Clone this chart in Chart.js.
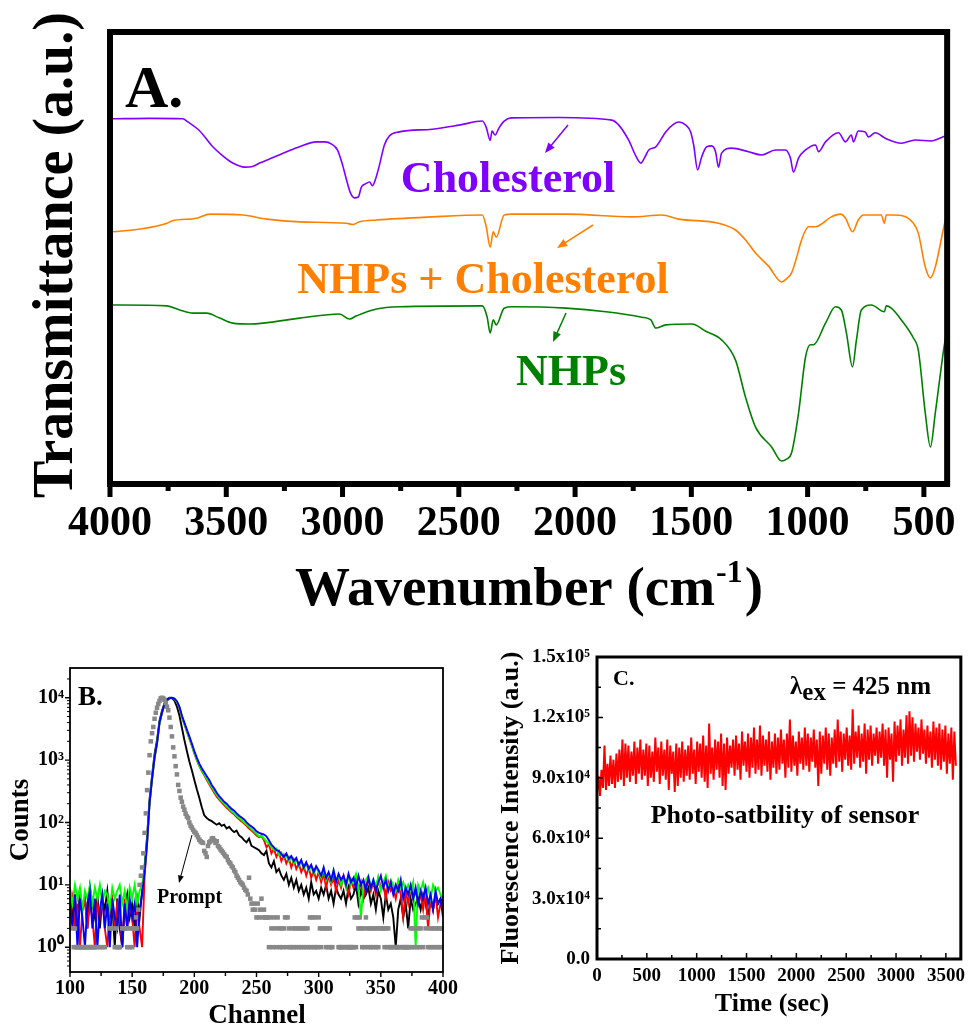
<!DOCTYPE html>
<html>
<head>
<meta charset="utf-8">
<title>FTIR spectra, fluorescence decay and photostability</title>
<script src="https://cdn.jsdelivr.net/npm/chart.js@4.4.1/dist/chart.umd.min.js"></script>
<style>
  html, body { margin: 0; padding: 0; background: #fff; overflow: hidden; }
  #figure { position: relative; width: 971px; height: 1027px; }
  canvas { position: absolute; }
  #ftir { left: 0; top: 0; }
  #decay { left: 0; top: 630px; }
  #stability { left: 480px; top: 630px; }
</style>
</head>
<body>
<div id="figure">
  <canvas id="ftir" width="971" height="620"></canvas>
  <canvas id="decay" width="480" height="397"></canvas>
  <canvas id="stability" width="491" height="397"></canvas>
</div>
<script>
const SERIF = '"Liberation Serif", "Times New Roman", serif';
const font = (size, weight = 'bold') => `${weight} ${size}px ${SERIF}`;

// ---------- A. FTIR spectra (wavenumber in cm-1, transmittance in a.u., curves offset) ----------
const cholWave = [3987, 3828, 3687, 3665, 3614, 3558, 3515, 3472, 3421, 3391,
  3356, 3305, 3240, 3185, 3112, 3077, 3047, 3022, 3000, 2983,
  2966, 2949, 2932, 2919, 2901, 2884, 2871, 2859, 2841, 2820,
  2799, 2756, 2614, 2498, 2399, 2382, 2365, 2357, 2344, 2327,
  2305, 2275, 2069, 1842, 1812, 1769, 1739, 1717, 1700, 1683,
  1653, 1610, 1576, 1554, 1524, 1503, 1490, 1473, 1456, 1434,
  1413, 1396, 1383, 1370, 1327, 1254, 1198, 1138, 1095, 1074,
  1061, 1039, 1009, 966, 953, 923, 867, 837, 812, 803,
  782, 752, 739, 709, 666, 597, 537, 468, 417, 405];
const cholT = [80.8, 80.9, 80.8, 80.1, 78.1, 74.6, 72.6, 71.0, 70.1, 70.2,
  71.0, 72.1, 73.5, 74.6, 75.7, 75.7, 75.2, 73.9, 70.6, 67.3,
  64.4, 63.3, 63.5, 65.7, 66.4, 66.8, 66.0, 67.3, 70.6, 75.0,
  77.0, 77.9, 78.5, 79.4, 80.3, 78.9, 76.0, 78.1, 77.2, 78.8,
  80.3, 81.0, 81.1, 80.5, 79.4, 76.0, 72.6, 71.0, 72.3, 73.9,
  74.6, 77.9, 79.6, 80.1, 79.4, 77.9, 75.0, 69.5, 72.3, 74.6,
  74.8, 73.5, 70.1, 73.2, 74.3, 73.5, 72.8, 73.9, 73.9, 72.1,
  69.0, 72.1, 73.9, 75.0, 73.5, 75.7, 77.7, 75.7, 77.2, 75.7,
  78.1, 77.9, 76.8, 77.7, 76.5, 75.4, 76.1, 75.9, 76.8, 77.0];

const mixWave = [3987, 3871, 3755, 3734, 3627, 3571, 3429, 3326, 3185, 2983,
  2957, 2927, 2854, 2614, 2399, 2382, 2365, 2352, 2339, 2305,
  2271, 2039, 1756, 1627, 1554, 1383, 1310, 1267, 1224, 1168,
  1112, 1091, 1069, 1048, 1026, 996, 966, 898, 859, 837,
  807, 782, 760, 683, 670, 662, 632, 545, 524, 494,
  472, 451, 417, 405];
const mixT = [55.8, 56.4, 57.7, 58.2, 58.8, 59.7, 59.5, 58.6, 58.0, 57.7,
  57.4, 58.0, 58.4, 59.1, 59.5, 56.9, 52.4, 55.8, 54.6, 59.5,
  59.7, 59.7, 59.1, 59.5, 58.6, 57.7, 56.2, 54.0, 51.1, 48.2,
  44.7, 45.4, 46.7, 50.0, 54.0, 56.9, 56.9, 59.1, 59.7, 58.8,
  55.8, 58.4, 59.5, 59.5, 57.7, 59.5, 59.5, 57.7, 55.5, 48.0,
  45.6, 48.0, 56.2, 59.0];

const nhpWave = [3987, 3755, 3700, 3644, 3584, 3528, 3472, 3399, 3185, 3013,
  2970, 2940, 2854, 2756, 2399, 2378, 2365, 2352, 2339, 2305,
  2271, 2039, 1867, 1713, 1674, 1653, 1610, 1498, 1438, 1370,
  1310, 1267, 1224, 1155, 1112, 1091, 1069, 1039, 1009, 988,
  975, 923, 880, 855, 833, 807, 790, 769, 726, 670,
  662, 640, 597, 545, 524, 494, 472, 451, 417, 405];
const nhpT = [39.6, 39.4, 38.5, 37.8, 37.8, 36.7, 35.6, 35.4, 36.7, 37.6,
  36.5, 37.2, 38.7, 39.2, 39.4, 36.9, 33.4, 36.3, 35.2, 38.9,
  39.2, 38.9, 38.1, 36.9, 36.3, 34.5, 35.2, 35.4, 33.8, 31.9,
  27.4, 19.2, 12.6, 8.2, 5.1, 5.5, 6.9, 15.7, 28.1, 30.8,
  30.8, 35.6, 39.2, 38.5, 33.4, 25.9, 31.9, 38.5, 39.6, 38.1,
  39.4, 38.9, 36.3, 32.3, 29.6, 15.7, 8.2, 15.7, 29.0, 33.0];

const waveTicks = [4000, 3500, 3000, 2500, 2000, 1500, 1000, 500];
const waveMinorTicks = [3750, 3250, 2750, 2250, 1750, 1250, 750];

// ---------- B. fluorescence decay (counts per channel) ----------
const blueCounts = [5, 2, 7, 1, 6, 3, 1, 5, 8, 2,
  6, 1, 4, 7, 2, 5, 1, 6, 3, 2,
  7, 1, 5, 2, 6, 3, 5, 1, 4, 7,
  16, 47, 205, 500, 1100, 1870, 4000, 5800, 7800, 9100,
  9800, 10000, 9700, 8800, 7200, 5200, 4000, 3100, 2400, 1850,
  1400, 1100, 880, 740, 640, 550, 480, 400, 350, 300,
  265, 240, 215, 200, 180, 165, 155, 140, 128, 120,
  112, 100, 92, 86, 80, 72, 68, 66, 64, 60,
  52, 44, 40, 36, 35, 31, 28, 32, 26, 29,
  24, 27, 21, 25, 19, 23, 18, 21, 16, 20,
  17, 14, 19, 13, 16, 12, 17, 11, 15, 12,
  14, 10, 15, 11, 13, 9, 14, 10, 12, 8,
  13, 9, 12, 8, 11, 14, 9, 12, 8, 11,
  7, 10, 8, 12, 6, 9, 7, 10, 6, 9,
  5, 8, 6, 9, 5, 7, 4, 8, 5, 6,
  3];
const greenCounts = [8, 5, 10, 6, 9, 4, 8, 6, 10, 5,
  9, 6, 10, 5, 8, 7, 4, 9, 6, 8,
  10, 5, 8, 4, 9, 6, 10, 5, 8, 10,
  18, 50, 210, 510, 1100, 1870, 3900, 5700, 7700, 9000,
  9800, 10000, 9600, 8600, 7000, 5000, 3800, 2900, 2250, 1750,
  1300, 1020, 820, 690, 590, 500, 430, 370, 320, 275,
  245, 220, 200, 180, 165, 150, 140, 128, 118, 110,
  100, 92, 85, 78, 72, 66, 60, 62, 55, 50,
  46, 40, 36, 38, 30, 33, 27, 30, 24, 28,
  22, 26, 20, 24, 18, 22, 17, 20, 15, 19,
  16, 13, 18, 12, 15, 11, 17, 12, 14, 10,
  13, 9, 14, 10, 12, 15, 9, 3, 10, 12,
  14, 9, 12, 10, 13, 8, 11, 14, 9, 12,
  10, 8, 12, 9, 11, 8, 10, 8, 11, 1,
  10, 8, 11, 7, 9, 6, 10, 8, 9, 7,
  6];
const redCounts = [3, 6, 2, 5, 1, 4, 6, 2, 5, 3,
  1, 5, 3, 6, 2, 1, 4, 6, 2, 5,
  3, 1, 6, 2, 5, 3, 1, 4, 2, 1,
  14, 45, 200, 490, 1080, 1850, 3900, 5700, 7700, 9000,
  9800, 10000, 9600, 8500, 6900, 4900, 3750, 2850, 2200, 1700,
  1280, 1000, 800, 670, 570, 480, 410, 350, 300, 260,
  232, 210, 190, 172, 158, 145, 135, 122, 112, 104,
  96, 88, 80, 74, 68, 62, 58, 60, 52, 40,
  45, 32, 38, 28, 34, 24, 30, 22, 27, 19,
  25, 18, 22, 16, 20, 14, 19, 13, 17, 12,
  16, 11, 15, 9, 14, 10, 13, 8, 12, 9,
  14, 10, 7, 12, 9, 13, 8, 11, 6, 10,
  12, 8, 11, 7, 13, 9, 10, 6, 11, 8,
  9, 6, 10, 7, 3, 8, 5, 9, 6, 8,
  5, 7, 4, 8, 2, 6, 4, 7, 3, 5,
  4];
const blackCounts = [9, 3, 7, 2, 8, 4, 6, 2, 9, 5,
  3, 7, 2, 6, 4, 8, 3, 5, 1, 6,
  2, 1, 4, 7, 3, 5, 2, 6, 3, 8,
  20, 60, 240, 560, 1250, 2100, 4300, 6200, 8200, 9500,
  10000, 9900, 9000, 7200, 5200, 3300, 2100, 1400, 950, 690,
  480, 340, 250, 175, 130, 118, 110, 105, 98, 92,
  97, 88, 92, 80, 85, 76, 70, 74, 62, 58,
  52, 48, 55, 42, 40, 38, 36, 32, 30, 35,
  22, 19, 24, 16, 18, 14, 12, 15, 10, 13,
  9, 12, 8, 10, 7, 9, 6, 11, 7, 8,
  6, 9, 7, 10, 6, 8, 5, 9, 7, 6,
  8, 5, 9, 6, 7, 10, 5, 8, 6, 7,
  9, 5, 7, 4, 8, 6, 3, 7, 4, 5,
  3, 1, 4, 6, 3, 5, 2, 6, 4, 5,
  6, 4, 7, 5, 3, 6, 4, 7, 5, 6,
  5];
// instrument response, one value per channel (null = empty channel)
const promptCounts = [null, null, 2, 1, 2, 1, 1, 1, 1, 1,
  1, 1, 1, 1, 1, 1, 1, 1, 1, 1,
  1, null, 1, null, 1, null, 1, null, 1, null,
  null, null, 2, null, 2, null, 1, 2, 1, 1,
  1, null, 2, null, 2, 2, 1, 2, 1, 2,
  1, 2, 2, 3, 2, 4, 10, 14, 19, 32,
  68, 140, 330, 630, 1200, 2000, 2700, 3400, 4600, 5750,
  6900, 7950, 8900, 9800, 10000, 9750, 9300, 8300, 7200, 6300,
  4800, 3400, 2400, 1600, 1150, 800, 590, 400, 320, 250,
  215, 180, 160, 138, 125, 118, 100, 89, 83, 76,
  71, 68, 63, 58, 53, 50, 48, 47, 35, 32,
  28, 42, 48, 50, 55, 56, 52, 47, 50, 42,
  40, 37, 35, 33, 31, 29, 28, 25, 23, 22,
  20, 19, 17, 16, 14, 13, 12, 11, 10.5, 10,
  9, 8.3, 8, 7, 13, 6, 5, 4, 5, 4,
  3, 5, 3, 4, 6, 3, 4, 3, 3, 3,
  1, 3, 2, 1, 3, 2, 1, 3, 2, 1,
  2, 1, 2, 3, 1, 3, 2, 1, 1, 2,
  1, 2, 1, 2, 1, 2, 1, 2, 1, 2,
  1, 2, 1, 3, 1, 3, 1, 3, 1, 1,
  3, 2, 1, 2, null, 2, 1, 2, 1, 2,
  1, 1, null, null, null, null, 1, 1, 1, 1,
  1, null, 1, 1, 1, 1, 1, 1, 1, 3,
  1, 3, 2, 3, 2, 1, 2, 1, 3, 2,
  1, 2, 1, 2, 1, 2, 1, 2, 1, 2,
  null, 2, 2, 1, 2, 1, 2, 1, 1, 1,
  null, 1, 1, 1, 1, 1, null, 1, 1, 1,
  1, 1, 1, 1, 2, 1, 2, 1, 2, 1,
  2, 1, 2, 3, 1, 3, 2, 3, 1, 2,
  1, 2, 1, 2, 1, 2, 1, 2, 1, 2,
  1];
const decayChannels = blueCounts.map((_, i) => 100 + 2 * i);
const promptChannels = promptCounts.map((_, i) => 100 + i);

const channelTicks = [100, 150, 200, 250, 300, 350, 400];
const channelMinorTicks = [125, 175, 225, 275, 325, 375];
const countTicks = [1, 10, 100, 1000, 10000];
const countTickLabels = ['10⁰', '10¹', '10²', '10³', '10⁴'];

// ---------- C. photostability, intensity in units of 10^3 a.u., sampled every 15 s ----------
const stabilityK = [83, 91, 81, 94, 85, 106, 84, 97, 86, 101,
  87, 99, 85, 102, 88, 104, 89, 109, 86, 107,
  90, 106, 88, 103, 91, 108, 87, 105, 92, 109,
  89, 104, 91, 107, 86, 106, 90, 103, 88, 110,
  93, 105, 87, 108, 91, 104, 89, 109, 84, 106,
  92, 103, 83, 107, 86, 105, 90, 108, 88, 104,
  91, 106, 89, 110, 92, 104, 87, 108, 93, 107,
  90, 111, 88, 106, 85, 117, 92, 105, 89, 109,
  94, 108, 90, 112, 86, 107, 84, 110, 92, 106,
  95, 109, 91, 111, 94, 107, 89, 113, 96, 108,
  93, 112, 90, 110, 95, 115, 92, 109, 94, 116,
  91, 111, 96, 109, 93, 113, 89, 108, 95, 112,
  92, 110, 94, 114, 97, 109, 90, 112, 95, 119,
  93, 111, 96, 108, 91, 113, 97, 110, 94, 115,
  96, 112, 93, 110, 98, 114, 95, 109, 86, 113,
  92, 111, 97, 115, 94, 112, 91, 110, 97, 114,
  95, 119, 98, 113, 93, 112, 99, 115, 96, 111,
  94, 124, 97, 113, 100, 116, 95, 112, 98, 117,
  92, 114, 99, 116, 96, 112, 101, 115, 97, 113,
  100, 117, 96, 114, 90, 115, 99, 112, 88, 118,
  98, 116, 101, 119, 96, 114, 100, 121, 97, 123,
  101, 120, 98, 117, 103, 115, 99, 119, 102, 114,
  97, 116, 100, 113, 95, 118, 99, 115, 96, 117,
  94, 114, 98, 116, 92, 112, 97, 115, 89, 113,
  96];
const stabilityTime = stabilityK.map((_, i) => i * 15);

const timeTicks = [0, 500, 1000, 1500, 2000, 2500, 3000, 3500];
const timeMinorTicks = [250, 750, 1250, 1750, 2250, 2750, 3250];
const intensityTicks = [0, 30, 60, 90, 120, 150];
const intensityTickLabels = ['0.0', '3.0x10⁴', '6.0x10⁴', '9.0x10⁴', '1.2x10⁵', '1.5x10⁵'];
const intensityMinorTicks = [15, 45, 75, 105, 135];

// ---------- drawing helpers ----------
const xy = (xs, ys) => xs.map((x, i) => ({ x, y: ys[i] }));

function text(ctx, str, x, y, f, color = '#000', align = 'left') {
  ctx.font = f;
  ctx.fillStyle = color;
  ctx.textAlign = align;
  ctx.textBaseline = 'alphabetic';
  ctx.fillText(str, x, y);
}

function rotatedText(ctx, str, x, y, f) {
  ctx.save();
  ctx.translate(x, y);
  ctx.rotate(-Math.PI / 2);
  text(ctx, str, 0, 0, f, '#000', 'center');
  ctx.restore();
}

function arrow(ctx, x1, y1, x2, y2, color, width, head) {
  const a = Math.atan2(y2 - y1, x2 - x1);
  ctx.save();
  ctx.strokeStyle = color;
  ctx.fillStyle = color;
  ctx.lineWidth = width;
  ctx.beginPath();
  ctx.moveTo(x1, y1);
  ctx.lineTo(x2 - Math.cos(a) * head * 0.7, y2 - Math.sin(a) * head * 0.7);
  ctx.stroke();
  ctx.beginPath();
  ctx.moveTo(x2, y2);
  ctx.lineTo(x2 - head * Math.cos(a - 0.38), y2 - head * Math.sin(a - 0.38));
  ctx.lineTo(x2 - head * Math.cos(a + 0.38), y2 - head * Math.sin(a + 0.38));
  ctx.closePath();
  ctx.fill();
  ctx.restore();
}

// tick marks along a horizontal scale, from y0 downwards by len (negative = upwards)
function ticksX(ctx, scale, values, y0, len, width) {
  ctx.lineWidth = width;
  ctx.beginPath();
  for (const v of values) {
    const p = scale.getPixelForValue(v);
    ctx.moveTo(p, y0);
    ctx.lineTo(p, y0 + len);
  }
  ctx.stroke();
}

// tick marks along a vertical scale, from x0 to the right by len (negative = leftwards)
function ticksY(ctx, scale, values, x0, len, width) {
  ctx.lineWidth = width;
  ctx.beginPath();
  for (const v of values) {
    const p = scale.getPixelForValue(v);
    ctx.moveTo(x0, p);
    ctx.lineTo(x0 + len, p);
  }
  ctx.stroke();
}

function frame(ctx, a, width) {
  ctx.strokeStyle = '#000';
  ctx.lineWidth = width;
  ctx.strokeRect(a.left, a.top, a.right - a.left, a.bottom - a.top);
}

const fixedTicks = values => scale => { scale.ticks = values.map(value => ({ value })); };
const labelFrom = (values, labels) => v => labels[values.indexOf(v)];
const plainAxis = {
  grid: { display: false, drawTicks: false },
  border: { display: false }
};
const baseOptions = {
  animation: false,
  responsive: false,
  events: [],
  plugins: { legend: { display: false }, tooltip: { enabled: false } }
};

Chart.defaults.font.family = SERIF;
Chart.defaults.color = '#000';

// ---------- A ----------
const ftirDecor = {
  id: 'ftirDecor',
  afterDatasetsDraw(chart) {
    const { ctx, chartArea: a, scales: { x } } = chart;
    ctx.save();
    frame(ctx, a, 6);
    ctx.strokeStyle = '#000';
    ticksX(ctx, x, waveTicks, a.bottom, 13, 5);
    ticksX(ctx, x, waveMinorTicks, a.bottom, 7, 5);

    text(ctx, 'A.', 125, 107, font(60));
    text(ctx, 'Cholesterol', 508, 192, font(44), '#8000ff', 'center');
    text(ctx, 'NHPs + Cholesterol', 483, 293, font(44), '#ff8000', 'center');
    text(ctx, 'NHPs', 571, 385, font(44), '#008000', 'center');
    arrow(ctx, 568, 125, 545, 153, '#8000ff', 1.5, 11);
    arrow(ctx, 593, 225, 557, 248, '#ff8000', 1.5, 11);
    arrow(ctx, 566, 313, 553, 342, '#008000', 1.5, 11);

    rotatedText(ctx, 'Transmittance (a.u.)', 72, 255, font(56));

    // Wavenumber (cm^-1)
    const main = 'Wavenumber (cm', sup = '-1', close = ')';
    ctx.font = font(55);
    const w1 = ctx.measureText(main).width, w3 = ctx.measureText(close).width;
    ctx.font = font(32);
    const w2 = ctx.measureText(sup).width;
    let tx = 529 - (w1 + w2 + w3 + 3) / 2;
    text(ctx, main, tx, 605, font(55));
    tx += w1 + 1;
    text(ctx, sup, tx, 582, font(32));
    tx += w2 + 2;
    text(ctx, close, tx, 605, font(55));
    ctx.restore();
  }
};

new Chart(document.getElementById('ftir'), {
  type: 'line',
  data: {
    datasets: [
      { label: 'Cholesterol', data: xy(cholWave, cholT), borderColor: '#8000ff' },
      { label: 'NHPs + Cholesterol', data: xy(mixWave, mixT), borderColor: '#ff8000' },
      { label: 'NHPs', data: xy(nhpWave, nhpT), borderColor: '#008000' }
    ].map(d => ({ ...d, borderWidth: 1.6, pointRadius: 0, cubicInterpolationMode: 'monotone' }))
  },
  options: {
    ...baseOptions,
    layout: { padding: { left: 110, top: 32, right: 22, bottom: 0 } },
    scales: {
      x: {
        ...plainAxis,
        type: 'linear', reverse: true, min: 400, max: 4000,
        afterBuildTicks: fixedTicks(waveTicks),
        afterFit: s => { s.height = 136; },
        ticks: { autoSkip: false, maxRotation: 0, padding: 15, font: { size: 42, weight: 'bold' }, callback: v => String(v) }
      },
      y: { display: false, min: 0, max: 100 }
    }
  },
  plugins: [ftirDecor]
});

// ---------- B ----------
const countMinorTicks = [];
for (const decade of [0.1, 1, 10, 100, 1000, 10000]) {
  for (let m = 2; m <= 9; m++) {
    const v = decade * m;
    if (v > 0.4 && v < 30000) countMinorTicks.push(v);
  }
}

const decayDecor = {
  id: 'decayDecor',
  afterDatasetsDraw(chart) {
    const { ctx, chartArea: a, scales: { x, y } } = chart;
    ctx.save();
    frame(ctx, a, 1.8);
    ctx.strokeStyle = '#000';
    ticksX(ctx, x, channelTicks, a.bottom, 5, 1.4);
    ticksX(ctx, x, channelMinorTicks, a.bottom, 4, 1.4);
    ticksY(ctx, y, countTicks, a.left, -5, 1.4);
    ticksY(ctx, y, countMinorTicks, a.left, -3, 1);

    text(ctx, 'B.', 78, 75, font(27));
    text(ctx, 'Prompt', 157, 273, font(20));
    arrow(ctx, 192, 205, 179, 253, '#000', 1, 8);
    rotatedText(ctx, 'Counts', 28, 190, font(27));
    text(ctx, 'Channel', 257, 393, font(27), '#000', 'center');
    ctx.restore();
  }
};

const decayLine = (label, counts, color) => ({
  label, data: xy(decayChannels, counts), borderColor: color, borderWidth: 1.9, pointRadius: 0
});

new Chart(document.getElementById('decay'), {
  type: 'line',
  data: {
    datasets: [
      {
        label: 'Prompt', data: xy(promptChannels, promptCounts), showLine: false,
        pointStyle: 'rect', pointRadius: 3.2, pointBorderWidth: 0, pointBackgroundColor: '#888888'
      },
      decayLine('blue', blueCounts, '#0000ff'),
      decayLine('green', greenCounts, '#00ff00'),
      decayLine('red', redCounts, '#ff0000'),
      decayLine('black', blackCounts, '#000000')
    ]
  },
  options: {
    ...baseOptions,
    layout: { padding: { left: 0, top: 38, right: 37, bottom: 0 } },
    scales: {
      x: {
        ...plainAxis,
        type: 'linear', min: 100, max: 400,
        afterBuildTicks: fixedTicks(channelTicks),
        afterFit: s => { s.height = 55; },
        ticks: { autoSkip: false, maxRotation: 0, padding: 5, font: { size: 20, weight: 'bold' }, callback: v => String(v) }
      },
      y: {
        ...plainAxis,
        type: 'logarithmic', min: 0.4, max: 30000,
        afterBuildTicks: fixedTicks(countTicks),
        afterFit: s => { s.width = 70; },
        ticks: { autoSkip: false, padding: 6, font: { size: 20, weight: 'bold' }, callback: labelFrom(countTicks, countTickLabels) }
      }
    }
  },
  plugins: [decayDecor]
});

// ---------- C ----------
const stabilityDecor = {
  id: 'stabilityDecor',
  afterDatasetsDraw(chart) {
    const { ctx, chartArea: a, scales: { x, y } } = chart;
    ctx.save();
    frame(ctx, a, 3);
    ctx.strokeStyle = '#000';
    ticksX(ctx, x, timeTicks, a.bottom, -6, 1.5);
    ticksX(ctx, x, timeMinorTicks, a.bottom, -4, 1.5);
    ticksY(ctx, y, intensityTicks, a.left, 6, 1.5);
    ticksY(ctx, y, intensityMinorTicks, a.left, 4, 1.5);

    text(ctx, 'C.', 133, 55, font(22));

    // λex = 425 nm
    const f = font(25);
    ctx.font = f;
    const wl = ctx.measureText('λ').width, we = ctx.measureText('ex').width;
    text(ctx, 'λ', 310, 64, f);
    text(ctx, 'ex', 310 + wl, 70, f);
    text(ctx, ' = 425 nm', 310 + wl + we, 64, f);

    text(ctx, 'Photo-satbility of sensor', 305, 193, font(26), '#000', 'center');
    rotatedText(ctx, 'Fluorescence Intensity (a.u.)', 38, 178, font(26));
    text(ctx, 'Time (sec)', 292, 381, font(26), '#000', 'center');
    ctx.restore();
  }
};

new Chart(document.getElementById('stability'), {
  type: 'line',
  data: {
    datasets: [{
      label: 'Photostability', data: xy(stabilityTime, stabilityK),
      borderColor: '#ff0000', borderWidth: 2, pointRadius: 0
    }]
  },
  options: {
    ...baseOptions,
    layout: { padding: { left: 0, top: 27, right: 3, bottom: 0 } },
    scales: {
      x: {
        ...plainAxis,
        type: 'linear', min: 0, max: 3650,
        afterBuildTicks: fixedTicks(timeTicks),
        afterFit: s => { s.height = 68; },
        ticks: { autoSkip: false, maxRotation: 0, padding: 6, font: { size: 19, weight: 'bold' }, callback: v => String(v) }
      },
      y: {
        ...plainAxis,
        type: 'linear', min: 0, max: 150,
        afterBuildTicks: fixedTicks(intensityTicks),
        afterFit: s => { s.width = 117; },
        ticks: { autoSkip: false, padding: 7, font: { size: 19, weight: 'bold' }, callback: labelFrom(intensityTicks, intensityTickLabels) }
      }
    }
  },
  plugins: [stabilityDecor]
});
</script>
</body>
</html>
